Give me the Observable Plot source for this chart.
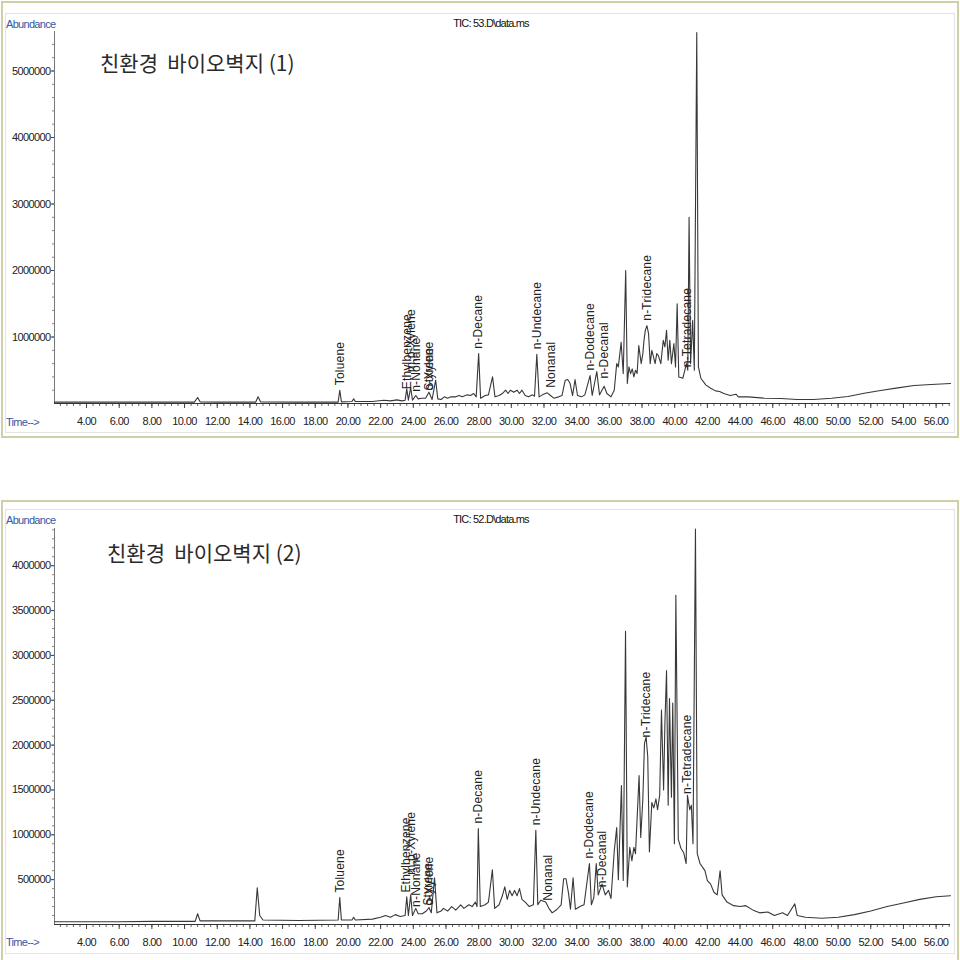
<!DOCTYPE html>
<html><head><meta charset="utf-8">
<script src="https://cdn.jsdelivr.net/npm/d3@7"></script>
<script src="https://cdn.jsdelivr.net/npm/@observablehq/plot@0.6"></script>
<style>
html,body{margin:0;padding:0;background:#fff;}
body{width:960px;height:960px;position:relative;overflow:hidden;font-family:"Liberation Sans",Arial,sans-serif;}
.abs{position:absolute;}
.frame{position:absolute;box-sizing:border-box;border:2px solid #cfcfa8;}
.inner{position:absolute;box-sizing:border-box;border:1px solid #e3e3e3;}
.blue{position:absolute;color:#3557a6;font-size:11px;letter-spacing:-0.7px;line-height:12px;white-space:nowrap;}
.tic{position:absolute;color:#111;font-size:11px;letter-spacing:-0.8px;line-height:12px;width:200px;text-align:center;white-space:nowrap;}
.kor{position:absolute;font-family:"Noto Sans CJK KR",sans-serif;font-size:21px;line-height:22px;color:#2a2a2a;white-space:pre;}
svg g[aria-label="x-axis tick label"], svg g[aria-label="y-axis tick label"]{letter-spacing:-0.6px;}
svg g[aria-label="text"]{letter-spacing:0.2px;}
</style></head><body>
<div class="frame" style="left:1px;top:1px;width:958px;height:437px"></div>
<div class="inner" style="left:5px;top:13px;width:950px;height:420px"></div>
<div class="frame" style="left:1px;top:500px;width:958px;height:470px"></div>
<div class="inner" style="left:5px;top:509px;width:950px;height:445px"></div>
<div id="c1" class="abs" style="left:0;top:0"></div>
<div id="c2" class="abs" style="left:0;top:500px"></div>
<div class="blue" style="left:6px;top:18px">Abundance</div>
<div class="blue" style="left:6px;top:416px">Time--&gt;</div>
<div class="tic" style="left:391px;top:17px">TIC: 53.D\data.ms</div>
<div class="kor" style="left:100px;top:51px">친환경  바이오벽지 (1)</div>
<div class="blue" style="left:6px;top:514px">Abundance</div>
<div class="blue" style="left:6px;top:936px">Time--&gt;</div>
<div class="tic" style="left:391px;top:513px">TIC: 52.D\data.ms</div>
<div class="kor" style="left:107px;top:541px">친환경  바이오벽지 (2)</div>
<script>
// ---------- Sample (1): TIC 53.D ----------
const times1 = [2.04,5.0,8.0,10.6,10.8,10.95,12.0,14.35,14.5,14.65,
17.0,19.4,19.5,19.6,20.25,20.35,20.45,21.5,22.2,22.6,
23.0,23.3,23.5,23.6,23.7,23.84,23.95,24.15,24.3,24.5,
24.75,24.96,25.15,25.37,25.5,25.7,25.9,26.1,26.3,26.6,
26.8,27.0,27.3,27.5,27.7,27.85,28.0,28.12,28.4,28.6,
28.85,29.0,29.25,29.45,29.65,29.8,29.95,30.15,30.35,30.5,
30.65,30.85,31.05,31.3,31.42,31.56,31.7,31.9,32.2,32.4,
32.6,32.9,33.1,33.3,33.45,33.6,33.75,33.9,34.05,34.3,
34.5,34.82,34.95,35.23,35.4,35.68,35.85,36.1,36.3,36.45,
36.55,36.72,36.85,37.0,37.1,37.2,37.3,37.4,37.5,37.6,
37.7,37.8,37.95,38.05,38.12,38.2,38.3,38.4,38.5,38.6,
38.7,38.8,38.9,39.0,39.15,39.3,39.4,39.5,39.6,39.7,
39.8,39.95,40.05,40.15,40.25,40.5,40.72,40.8,40.88,40.97,
41.1,41.2,41.35,41.45,41.6,41.9,42.2,42.5,42.75,43.0,
43.4,43.75,43.9,44.5,45.5,46.5,47.5,48.5,49.6,50.6,
51.6,52.6,53.65,54.65,55.7,56.88];
const abund1 = [20000,20000,20000,20000,90000,25000,20000,20000,100000,25000,
20000,20000,200000,25000,30000,70000,30000,30000,50000,40000,
55000,40000,50000,220000,50000,240000,50000,120000,70000,80000,
80000,170000,60000,350000,70000,60000,100000,80000,100000,100000,
120000,100000,130000,120000,150000,100000,750000,80000,120000,130000,
400000,100000,120000,150000,200000,150000,200000,170000,200000,150000,
200000,120000,100000,130000,110000,740000,100000,130000,160000,120000,
80000,100000,120000,350000,360000,300000,120000,360000,120000,100000,
130000,420000,120000,480000,130000,260000,150000,100000,200000,600000,
550000,920000,450000,2000000,300000,550000,450000,520000,400000,500000,
450000,870000,600000,750000,950000,1100000,1170000,1050000,600000,800000,
700000,600000,750000,720000,600000,950000,850000,1100000,650000,950000,
600000,900000,550000,1500000,400000,380000,600000,500000,2800000,600000,
1250000,500000,5580000,550000,380000,280000,230000,190000,180000,150000,
120000,140000,100000,100000,80000,75000,60000,60000,80000,105000,
155000,195000,235000,270000,285000,300000];
const names1 = ["Toluene","Ethylbenzene","m,p-Xylene","n-Nonane","Styrene","o-Xylene","n-Decane","n-Undecane","Nonanal","n-Dodecane","n-Decanal","n-Tridecane","n-Tetradecane"];
const labelTime1 = [19.5,23.6,23.88,24.19,24.96,24.98,28.0,31.56,32.41,34.82,35.68,38.29,40.78];
const labelAbund1 = [200000,140000,400000,100000,120000,120000,750000,740000,160000,420000,300000,1170000,470000];
const yTicks1 = [1000000,2000000,3000000,4000000,5000000];

// ---------- Sample (2): TIC 52.D ----------
const times2 = [2.04,6.0,8.0,10.65,10.8,10.95,12.0,14.3,14.45,14.6,
14.8,17.0,19.4,19.5,19.6,20.25,20.35,20.45,21.5,22.0,
22.3,22.6,22.9,23.2,23.5,23.6,23.7,23.84,23.95,24.15,
24.3,24.55,24.8,24.96,25.1,25.3,25.45,25.7,25.85,26.1,
26.35,26.6,26.9,27.1,27.4,27.6,27.8,27.9,27.98,28.1,
28.4,28.6,28.84,28.98,29.25,29.45,29.6,29.75,29.9,30.05,
30.2,30.35,30.5,30.65,30.85,31.1,31.35,31.5,31.62,31.8,
32.1,32.3,32.5,32.8,33.05,33.2,33.35,33.5,33.62,33.78,
33.92,34.2,34.45,34.78,34.9,35.05,35.2,35.32,35.55,35.75,
35.95,36.1,36.3,36.45,36.55,36.74,36.85,36.99,37.1,37.25,
37.38,37.5,37.6,37.82,37.92,38.05,38.15,38.25,38.35,38.45,
38.6,38.72,38.85,38.95,39.08,39.19,39.32,39.4,39.5,39.6,
39.68,39.8,39.88,39.98,40.07,40.22,40.38,40.55,40.7,40.78,
40.92,41.02,41.12,41.27,41.38,41.55,41.7,41.85,42.0,42.2,
42.4,42.6,42.78,42.9,43.2,43.6,44.0,44.35,44.8,45.2,
45.7,46.1,46.6,46.9,47.35,47.5,48.0,49.0,50.0,51.0,
52.0,53.0,54.0,55.0,56.0,56.88];
const abund2 = [30000,30000,35000,35000,120000,40000,40000,40000,410000,100000,
50000,45000,50000,300000,50000,50000,80000,50000,60000,80000,
100000,80000,110000,90000,100000,310000,100000,330000,100000,180000,
120000,120000,150000,190000,130000,520000,130000,150000,180000,150000,
200000,160000,220000,180000,220000,200000,250000,200000,1070000,200000,
220000,250000,610000,180000,220000,320000,420000,280000,380000,320000,
380000,320000,400000,280000,250000,200000,220000,1050000,220000,270000,
250000,180000,130000,170000,220000,510000,510000,350000,170000,520000,
170000,200000,220000,680000,220000,300000,680000,330000,450000,330000,
380000,290000,820000,1080000,500000,1550000,490000,3270000,420000,860000,
710000,860000,790000,1660000,970000,1400000,2020000,2090000,1870000,810000,
1360000,1300000,1400000,1280000,1440000,2390000,1500000,2240000,2830000,1330000,
2520000,1420000,2470000,900000,3670000,950000,850000,800000,680000,1440000,
1280000,1330000,900000,4410000,790000,680000,640000,600000,490000,450000,
360000,330000,600000,330000,250000,210000,200000,210000,160000,130000,
140000,100000,130000,100000,230000,100000,80000,70000,80000,110000,
150000,200000,240000,280000,310000,320000];
const names2 = ["Toluene","Ethylbenzene","m,p-Xylene","n-Nonane","Styrene","o-Xylene","n-Decane","n-Undecane","Nonanal","n-Dodecane","n-Decanal","n-Tridecane","n-Tetradecane"];
const labelTime2 = [19.5,23.54,23.84,24.19,24.93,24.96,27.98,31.5,32.27,34.78,35.54,38.23,40.78];
const labelAbund2 = [300000,300000,500000,140000,155000,155000,1070000,1050000,210000,680000,360000,2030000,1400000];
const yTicks2 = [500000,1000000,1500000,2000000,2500000,3000000,3500000,4000000];

const xTicks = [4,6,8,10,12,14,16,18,20,22,24,26,28,30,32,34,36,38,40,42,44,46,48,50,52,54,56];
const xMin = 2.04, xMax = 56.88;

function chart(times, abund, names, lt, lv, yTicks, yMinorStep, yMax, height, mt, mb) {
  const data = times.map((t, i) => ({t, v: abund[i]}));
  const labels = names.map((n, i) => ({name: n, t: lt[i], v: lv[i]}));
  const xMinor = d3.range(0, 141).map(i => 2.4 + i * 0.4).filter(d => d < xMax);
  const yMinor = d3.range(1, Math.floor(yMax / yMinorStep) + 1).map(i => i * yMinorStep);
  return Plot.plot({
    width: 960, height,
    marginTop: mt, marginBottom: mb, marginLeft: 54, marginRight: 10,
    x: {domain: [xMin, xMax], label: null},
    y: {domain: [0, yMax], label: null},
    style: {fontFamily: "'Liberation Sans', Arial, sans-serif", color: "#333", background: "transparent", overflow: "visible"},
    marks: [
      Plot.axisX({ticks: xMinor, tickSize: 3, tickFormat: () => "", stroke: "#666", label: null}),
      Plot.axisX({ticks: xTicks, tickSize: 5, tickPadding: 9, tickFormat: d => d.toFixed(2), fontSize: 11, fill: "#222", stroke: "#444", label: null}),
      Plot.axisY({ticks: yMinor, tickSize: 2, tickFormat: () => "", stroke: "#888", label: null}),
      Plot.axisY({ticks: yTicks, tickSize: 3, tickPadding: 1, tickFormat: d => String(d), fontSize: 11, fill: "#222", stroke: "#444", label: null}),
      Plot.ruleX([xMin], {stroke: "#777"}),
      Plot.ruleY([0], {stroke: "#333"}),
      Plot.line(data, {x: "t", y: "v", stroke: "#383838", strokeWidth: 1.1}),
      Plot.text(labels, {x: "t", y: "v", text: "name", rotate: -90, textAnchor: "start", dy: -5, fontSize: 12, fill: "#222"})
    ]
  });
}

document.getElementById("c1").appendChild(
  chart(times1, abund1, names1, labelTime1, labelAbund1, yTicks1, 200000, 5594000, 440, 31, 37));
document.getElementById("c2").appendChild(
  chart(times2, abund2, names2, labelTime2, labelAbund2, yTicks2, 100000, 4415000, 460, 28, 36));
</script>
</body></html>
